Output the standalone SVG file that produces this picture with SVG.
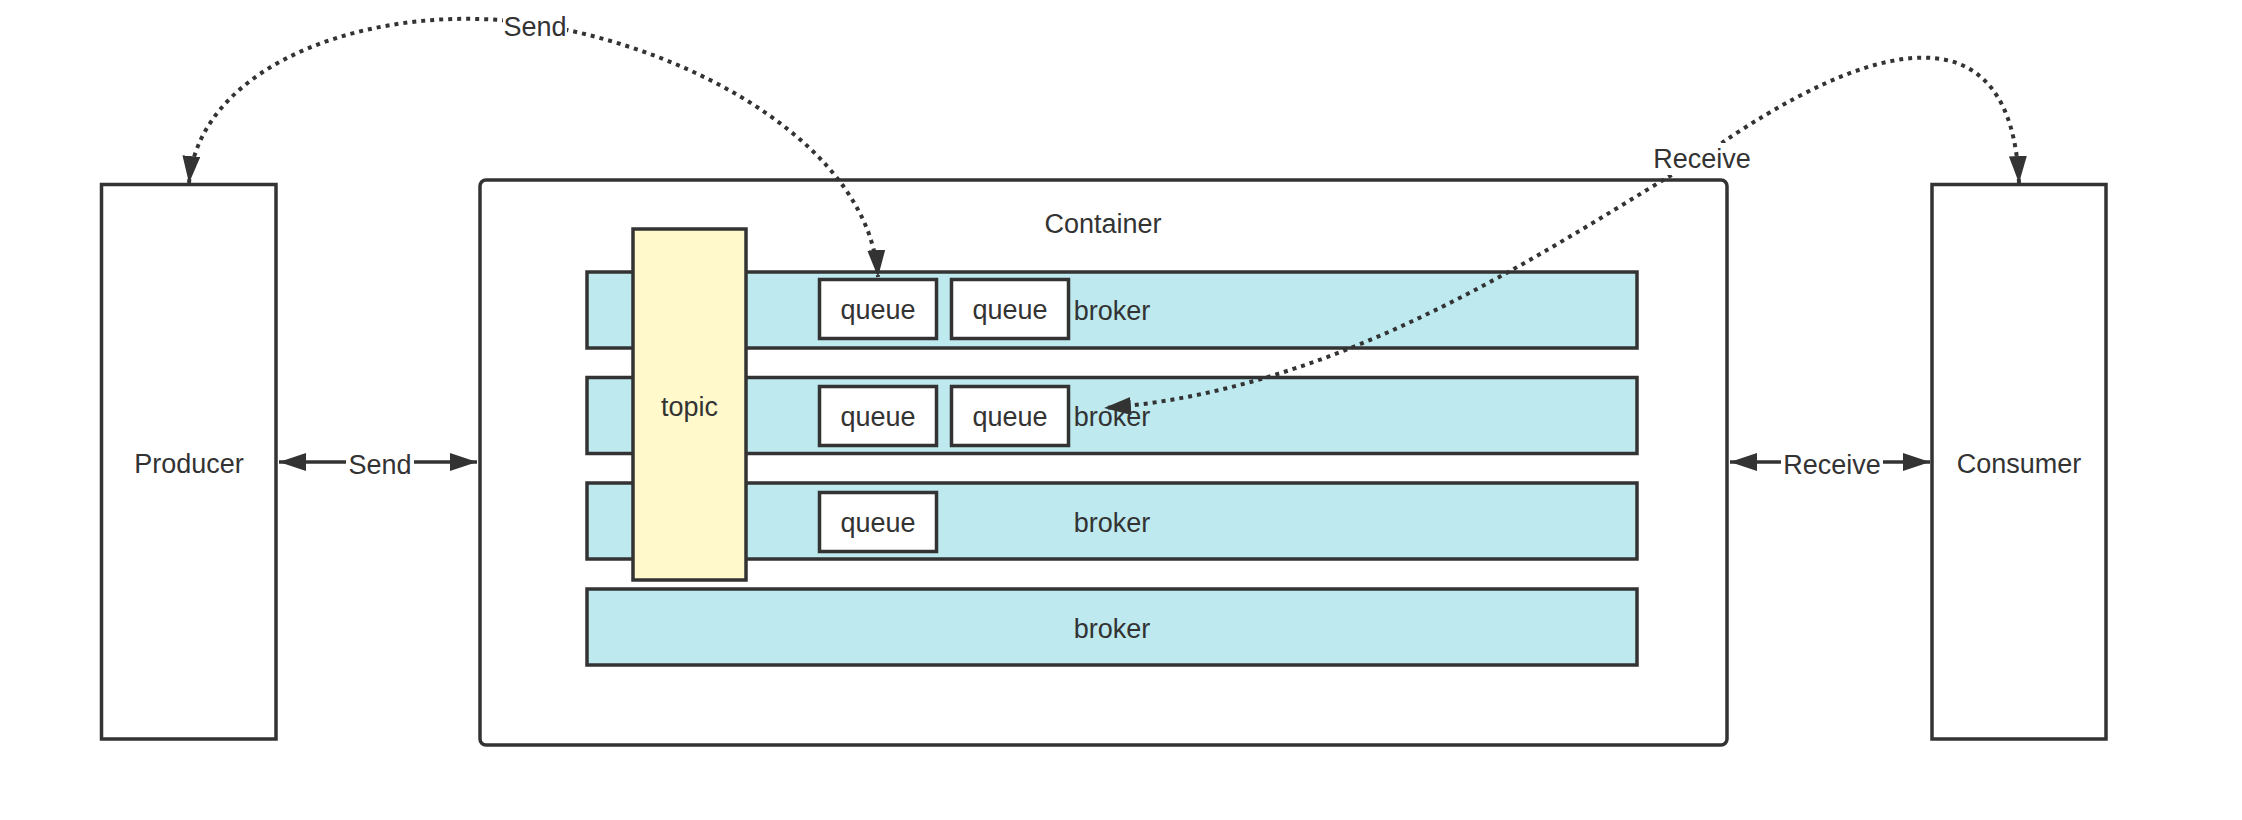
<svg xmlns="http://www.w3.org/2000/svg" width="2242" height="820" viewBox="0 0 2242 820">
<style>
  .box { fill: #ffffff; stroke: #333333; stroke-width: 3.5; }
  .broker { fill: #bde9ef; stroke: #333333; stroke-width: 3.5; }
  .topic { fill: #fff9cc; stroke: #333333; stroke-width: 3.5; }
  .lbl { font-family: "Liberation Sans", Arial, sans-serif; font-size: 27px; fill: #333333; text-anchor: middle; }
  .solid { fill: none; stroke: #333333; stroke-width: 3.5; }
  .dotted { fill: none; stroke: #333333; stroke-width: 4; stroke-dasharray: 4 5; }
  .bg { fill: #ffffff; }
</style>
<defs>
  <marker id="arrow" markerUnits="userSpaceOnUse" markerWidth="28" markerHeight="19" refX="27" refY="9" orient="auto-start-reverse" viewBox="0 0 28 19">
    <path d="M0,0 L27,9 L0,18 z" fill="#333333"/>
  </marker>
</defs>
<rect x="0" y="0" width="2242" height="820" fill="#ffffff"/>

<g id="producer">
  <rect class="box" x="101.5" y="184.5" width="174.5" height="554.5"/>
  <text class="lbl" x="189" y="464" dy="0.35em">Producer</text>
</g>

<g id="container">
  <rect class="box" x="480" y="180" width="1247" height="565" rx="6" ry="6"/>
  <text class="lbl" x="1103" y="224" dy="0.35em">Container</text>
</g>

<g id="broker1">
  <rect class="broker" x="587" y="272" width="1050" height="76"/>
  <text class="lbl" x="1112" y="311" dy="0.35em">broker</text>
</g>
<g id="broker2">
  <rect class="broker" x="587" y="377.5" width="1050" height="76"/>
  <text class="lbl" x="1112" y="417" dy="0.35em">broker</text>
</g>
<g id="broker3">
  <rect class="broker" x="587" y="483" width="1050" height="76"/>
  <text class="lbl" x="1112" y="522.5" dy="0.35em">broker</text>
</g>
<g id="broker4">
  <rect class="broker" x="587" y="589" width="1050" height="76"/>
  <text class="lbl" x="1112" y="628.5" dy="0.35em">broker</text>
</g>

<g id="topic">
  <rect class="topic" x="633" y="229" width="113" height="351"/>
  <text class="lbl" x="689.5" y="407" dy="0.35em">topic</text>
</g>

<g id="queue1">
  <rect class="box" x="819.5" y="279.5" width="117" height="59"/>
  <text class="lbl" x="878" y="310" dy="0.35em">queue</text>
</g>
<g id="queue2">
  <rect class="box" x="951.5" y="279.5" width="117" height="59"/>
  <text class="lbl" x="1010" y="310" dy="0.35em">queue</text>
</g>
<g id="queue3">
  <rect class="box" x="819.5" y="386.5" width="117" height="59"/>
  <text class="lbl" x="878" y="417" dy="0.35em">queue</text>
</g>
<g id="queue4">
  <rect class="box" x="951.5" y="386.5" width="117" height="59"/>
  <text class="lbl" x="1010" y="417" dy="0.35em">queue</text>
</g>
<g id="queue5">
  <rect class="box" x="819.5" y="492.5" width="117" height="59"/>
  <text class="lbl" x="878" y="523" dy="0.35em">queue</text>
</g>

<g id="consumer">
  <rect class="box" x="1932" y="184.5" width="174" height="554.5"/>
  <text class="lbl" x="2019" y="464" dy="0.35em">Consumer</text>
</g>

<g id="connectors">
  <path class="solid" d="M279,462 L477,462" marker-start="url(#arrow)" marker-end="url(#arrow)"/>
  <rect class="bg" x="346" y="446" width="68" height="34"/>
  <text class="lbl" x="380" y="465" dy="0.35em">Send</text>

  <path class="solid" d="M1730,462 L1930,462" marker-start="url(#arrow)" marker-end="url(#arrow)"/>
  <rect class="bg" x="1781" y="446" width="102" height="34"/>
  <text class="lbl" x="1832" y="465" dy="0.35em">Receive</text>

  <path class="dotted" d="M189,183 C200,60 380,0 535,24 C700,50 870,150 878,277" marker-start="url(#arrow)" marker-end="url(#arrow)"/>
  <rect class="bg" x="503" y="10" width="64" height="32"/>
  <text class="lbl" x="535" y="27" dy="0.35em">Send</text>

  <path class="dotted" d="M2019,183 C2012,10 1880,30 1700,158 C1560,240 1350,390 1104,408" marker-start="url(#arrow)" marker-end="url(#arrow)"/>
  <rect class="bg" x="1651" y="143" width="102" height="32"/>
  <text class="lbl" x="1702" y="159" dy="0.35em">Receive</text>
</g>
</svg>
